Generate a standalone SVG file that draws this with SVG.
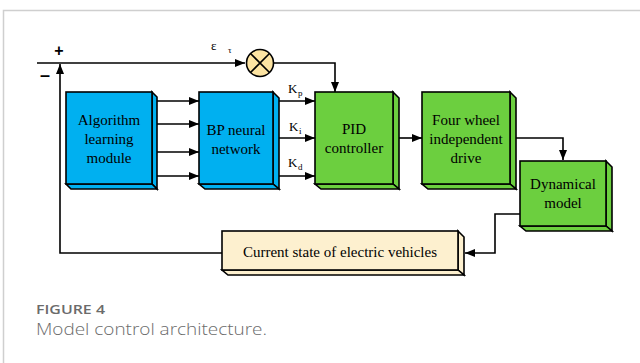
<svg xmlns="http://www.w3.org/2000/svg" width="640" height="363" viewBox="0 0 640 363">
<defs>
<marker id="ah" viewBox="0 0 10 8" refX="10" refY="4" markerWidth="10" markerHeight="8" markerUnits="userSpaceOnUse" orient="auto">
<path d="M0,0 L10,4 L0,8 Z" fill="#000"/>
</marker>
</defs>
<style>
.blue{fill:#00b0f0;stroke:#000;stroke-width:1.6;stroke-linejoin:miter}
.green{fill:#6ccf3f;stroke:#000;stroke-width:1.6}
.cream{fill:#fdf0cf;stroke:#000;stroke-width:1.6}
.t{font-family:"Liberation Serif","Times New Roman",serif;font-size:15px;fill:#000;text-anchor:middle}
.k{font-family:"Liberation Serif","Times New Roman",serif;font-size:13px;fill:#000}
.ks{font-family:"Liberation Serif","Times New Roman",serif;font-size:9px;fill:#000}
.ln{fill:none;stroke:#000;stroke-width:1.6}
.sign{font-family:"Liberation Sans",Arial,sans-serif;font-weight:bold;fill:#000;text-anchor:middle}
</style>
<rect width="640" height="363" fill="#fff"/>
<path d="M3.5,363 V10.5 H640" fill="none" stroke="#cfcfcf" stroke-width="1.5"/>

<g id="connectors">
<path class="ln" d="M37,63 H245" marker-end="url(#ah)"/>
<path class="ln" d="M274,63 H335 V92" marker-end="url(#ah)"/>
<path class="ln" d="M157,101 H199" marker-end="url(#ah)"/>
<path class="ln" d="M157,124 H199" marker-end="url(#ah)"/>
<path class="ln" d="M157,152 H199" marker-end="url(#ah)"/>
<path class="ln" d="M157,176 H199" marker-end="url(#ah)"/>
<path class="ln" d="M279,101 H315" marker-end="url(#ah)"/>
<path class="ln" d="M279,138 H315" marker-end="url(#ah)"/>
<path class="ln" d="M279,176 H315" marker-end="url(#ah)"/>
<path class="ln" d="M399,138 H422" marker-end="url(#ah)"/>
<path class="ln" d="M516,138 H563 V160" marker-end="url(#ah)"/>
<path class="ln" d="M520,214 H495 V253 H465" marker-end="url(#ah)"/>
<path class="ln" d="M222,253 H60 V64" marker-end="url(#ah)"/>
<text class="k" x="288" y="93">K</text><text class="ks" x="298" y="96">p</text>
<text class="k" x="289" y="131">K</text><text class="ks" x="299" y="134">i</text>
<text class="k" x="288" y="167">K</text><text class="ks" x="298" y="170">d</text>
<text class="k" x="211" y="50" font-size="16">ε</text><text class="ks" x="228" y="53">τ</text>
<text class="sign" x="59" y="56" font-size="16">+</text>
<text class="sign" x="45" y="81" font-size="18">–</text>
</g>

<g id="summer">
<circle cx="260" cy="63" r="13.5" fill="#fde4a2" stroke="#000" stroke-width="1.6"/>
<path d="M250.5,53.5 L269.5,72.5 M269.5,53.5 L250.5,72.5" stroke="#000" stroke-width="1.6"/>
</g>

<g id="algorithm">
<polygon class="blue" points="152,92 157,97 157,189 152,184"/>
<polygon class="blue" points="66,184 152,184 157,189 71,189"/>
<rect class="blue" x="66" y="92" width="86" height="92"/>
<text class="t" x="109" y="125">Algorithm</text>
<text class="t" x="109" y="144">learning</text>
<text class="t" x="109" y="163">module</text>
</g>

<g id="bp">
<polygon class="blue" points="273,92 279,98 279,189 273,184"/>
<polygon class="blue" points="199,184 273,184 279,189 205,189"/>
<rect class="blue" x="199" y="92" width="74" height="92"/>
<text class="t" x="236" y="135">BP neural</text>
<text class="t" x="236" y="154">network</text>
</g>

<g id="pid">
<polygon class="green" points="393,92 399,98 399,189 393,184"/>
<polygon class="green" points="315,184 393,184 399,189 321,189"/>
<rect class="green" x="315" y="92" width="78" height="92"/>
<text class="t" x="354" y="134">PID</text>
<text class="t" x="354" y="153">controller</text>
</g>

<g id="fourwheel">
<polygon class="green" points="510,92 516,98 516,189 510,184"/>
<polygon class="green" points="422,184 510,184 516,189 428,189"/>
<rect class="green" x="422" y="92" width="88" height="92"/>
<text class="t" x="466" y="125">Four wheel</text>
<text class="t" x="466" y="144">independent</text>
<text class="t" x="466" y="163">drive</text>
</g>

<g id="dynamical">
<polygon class="green" points="606,161 612,167 612,231 606,226"/>
<polygon class="green" points="520,226 606,226 612,231 526,231"/>
<rect class="green" x="520" y="161" width="86" height="65"/>
<text class="t" x="563" y="189">Dynamical</text>
<text class="t" x="563" y="208">model</text>
</g>

<g id="currentstate">
<polygon class="cream" points="458,231 464,237 464,275 458,270"/>
<polygon class="cream" points="222,270 458,270 464,275 228,275"/>
<rect class="cream" x="222" y="231" width="236" height="39"/>
<text class="t" x="340" y="257">Current state of electric vehicles</text>
</g>

<g id="caption">
<text x="36" y="314" font-family="'Open Sans',sans-serif" font-weight="600" font-size="12.5" fill="#6b6b6b" textLength="69" lengthAdjust="spacingAndGlyphs">FIGURE 4</text>
<text x="36" y="335" font-family="'Open Sans',sans-serif" font-weight="300" font-size="16" fill="#6b6b6b" textLength="231" lengthAdjust="spacingAndGlyphs">Model control architecture.</text>
</g>
</svg>
